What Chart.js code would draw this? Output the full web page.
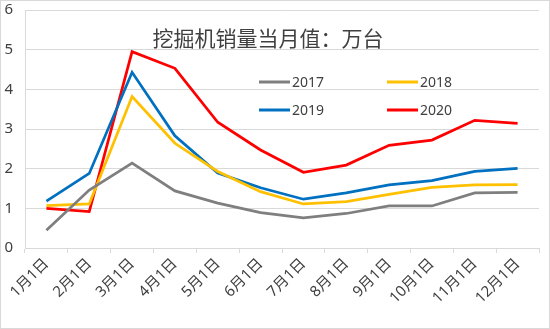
<!DOCTYPE html>
<html>
<head>
<meta charset="utf-8">
<script src="https://cdn.jsdelivr.net/npm/chart.js@4/dist/chart.umd.min.js"></script>
<style>
  html, body { margin: 0; padding: 0; background: #fff; }
  #wrap { width: 550px; height: 329px; }
</style>
</head>
<body>
<div id="wrap"><canvas id="c" width="550" height="329"></canvas></div>
<script>
const months = ['1月1日', '2月1日', '3月1日', '4月1日', '5月1日', '6月1日',
  '7月1日', '8月1日', '9月1日', '10月1日', '11月1日', '12月1日']

// 挖掘机销量当月值，单位万台
const sales2017 = [0.45, 1.46, 2.14, 1.44, 1.13, 0.89, 0.76, 0.87, 1.06, 1.06, 1.39, 1.40]
const sales2018 = [1.07, 1.11, 3.82, 2.64, 1.93, 1.42, 1.11, 1.17, 1.35, 1.53, 1.59, 1.60]
const sales2019 = [1.18, 1.88, 4.43, 2.83, 1.89, 1.52, 1.23, 1.39, 1.59, 1.70, 1.93, 2.01]
const sales2020 = [1.00, 0.92, 4.95, 4.53, 3.17, 2.47, 1.91, 2.09, 2.59, 2.72, 3.22, 3.14]

const titleText = '挖掘机销量当月值：万台'
const yTicks = [0, 1, 2, 3, 4, 5, 6]

const FONT = '"Noto Sans", "Noto Sans CJK SC", sans-serif'

const series = [
  { label: '2017', data: sales2017, color: '#7f7f7f' },
  { label: '2018', data: sales2018, color: '#ffc000' },
  { label: '2019', data: sales2019, color: '#0070c0' },
  { label: '2020', data: sales2020, color: '#ff0000' }
]

// white background + thin frame round the whole picture
const frame = {
  id: 'frame',
  beforeDraw(chart) {
    const { ctx, width, height } = chart
    ctx.save()
    ctx.fillStyle = '#fff'
    ctx.fillRect(0, 0, width, height)
    ctx.strokeStyle = '#d9d9d9'
    ctx.lineWidth = 1
    ctx.strokeRect(0.5, 0.5, width - 1, height - 1)
    ctx.restore()
  }
}

// title and legend sit inside the plot area
const overlay = {
  id: 'overlay',
  afterDatasetsDraw(chart) {
    const { ctx } = chart
    ctx.save()
    ctx.fillStyle = '#404040'
    ctx.font = '21px "Noto Sans CJK SC", sans-serif'
    ctx.textAlign = 'center'
    ctx.textBaseline = 'middle'
    ctx.fillText(titleText, 268, 38)

    const cols = [259, 387]
    const rows = [82, 110]
    ctx.font = '14px ' + FONT
    ctx.textAlign = 'left'
    chart.data.datasets.forEach((ds, i) => {
      const x = cols[i % 2]
      const y = rows[Math.floor(i / 2)]
      ctx.strokeStyle = ds.borderColor
      ctx.lineWidth = 3
      ctx.beginPath()
      ctx.moveTo(x, y)
      ctx.lineTo(x + 31, y)
      ctx.stroke()
      ctx.fillStyle = '#404040'
      ctx.fillText(ds.label, x + 33, y + 1)
    })
    ctx.restore()
  }
}

new Chart(document.getElementById('c'), {
  type: 'line',
  data: {
    labels: months,
    datasets: series.map(s => ({
      label: s.label,
      data: s.data,
      borderColor: s.color,
      backgroundColor: s.color,
      borderWidth: 2.75,
      pointRadius: 0,
      tension: 0
    }))
  },
  options: {
    responsive: false,
    animation: false,
    layout: { padding: { top: 10, right: 11, bottom: 0, left: 0 } },
    plugins: {
      legend: { display: false },
      tooltip: { enabled: false }
    },
    scales: {
      x: {
        offset: true,
        afterFit: axis => {
          axis.height = 81
          axis.paddingLeft = 0
          axis.paddingRight = 0
        },
        grid: {
          offset: true,
          drawOnChartArea: false,
          color: '#d9d9d9',
          tickLength: 5
        },
        border: { color: '#d9d9d9' },
        ticks: {
          color: '#404040',
          font: { family: FONT, size: 15 },
          maxRotation: 45,
          minRotation: 45,
          padding: 2,
          autoSkip: false
        }
      },
      y: {
        min: 0,
        max: 6,
        afterBuildTicks: axis => { axis.ticks = yTicks.map(v => ({ value: v })) },
        afterFit: axis => {
          axis.width = 25
          axis.paddingTop = 0
          axis.paddingBottom = 0
        },
        grid: { color: '#d9d9d9', drawTicks: false },
        border: { color: '#d9d9d9' },
        ticks: {
          color: '#404040',
          font: { family: FONT, size: 15 },
          padding: 12
        }
      }
    }
  },
  plugins: [frame, overlay]
})
</script>
</body>
</html>
